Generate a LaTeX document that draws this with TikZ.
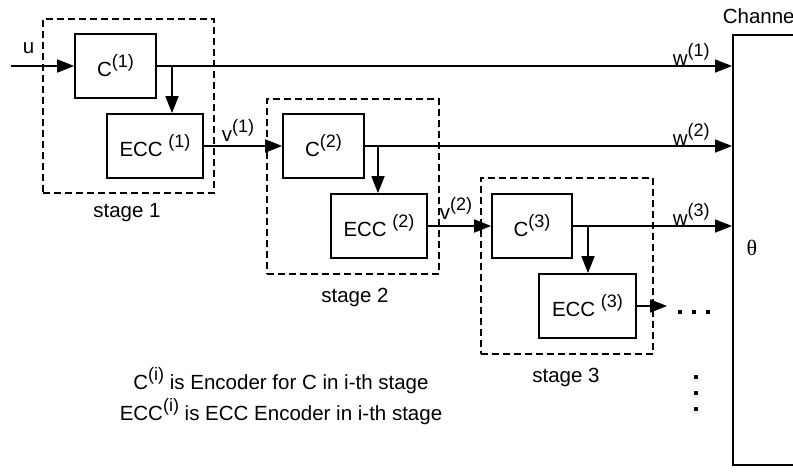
\documentclass[tikz,border=0pt]{standalone}
\usepackage{fontspec}
\setmainfont{Liberation Sans}
\newfontfamily\serifx{Liberation Serif}
\usetikzlibrary{arrows.meta}
\newcommand{\supx}[1]{\raisebox{9pt}{\fontsize{18}{18}\selectfont #1}}
\begin{document}
\begin{tikzpicture}[x=1pt,y=-1pt, line width=1.7pt, font=\fontsize{20.5}{31}\selectfont,
  blk/.style={draw, minimum height=64pt, inner sep=0pt},
  stagebox/.style={draw, line width=1.6pt, dash pattern=on 7pt off 4pt, inner sep=0pt},
  arr/.style={-{Triangle[length=17pt,width=13pt]}},
  lbl/.style={inner sep=0pt},
  dotx/.style={fill, minimum size=3.8pt, inner sep=0pt}]
\useasboundingbox (0,0) rectangle (793,472);
% stage boxes
\node[stagebox, minimum width=171pt, minimum height=174pt] (s1) at (128.5,106) {};
\node[stagebox, minimum width=172pt, minimum height=175pt] (s2) at (353,186.5) {};
\node[stagebox, minimum width=172pt, minimum height=176pt] (s3) at (567,266) {};
\node (s1l) at (127,213) {stage 1};
\node (s2l) at (355,297) {stage 2};
\node (s3l) at (566,377) {stage 3};
% blocks
\node[blk, minimum width=81pt] (c1) at (115.5,66) {C\supx{(1)}};
\node[blk, minimum width=96pt] (e1) at (155,146) {ECC \supx{(1)}};
\node[blk, minimum width=81pt] (c2) at (323.5,146) {C\supx{(2)}};
\node[blk, minimum width=96pt] (e2) at (379,226) {ECC \supx{(2)}};
\node[blk, minimum width=80pt] (c3) at (532,226) {C\supx{(3)}};
\node[blk, minimum width=97pt] (e3) at (587.5,306) {ECC \supx{(3)}};
% channel
\node[draw, minimum width=120pt, minimum height=430pt, anchor=north west, inner sep=0pt] (ch) at (732,34) {};
\node (theta) at (752,248) {\serifx\fontsize{22}{22}\selectfont θ};
\node[lbl, anchor=base west] (chl) at (722,23) {Channel};
% coordinates
\coordinate (uin) at (11,66);
\coordinate (b1) at (172,66);
\coordinate (b2) at (378,146);
\coordinate (b3) at (588,226);
\coordinate (e3end) at (667,306);
% connectors
\draw[arr] (uin) -- (c1.west);
\draw[arr] (c1.east) -- (ch.west |- c1.east);
\draw[arr] (b1) -- (b1 |- e1.north);
\draw[arr] (e1.east) -- (c2.west);
\draw[arr] (c2.east) -- (ch.west |- c2.east);
\draw[arr] (b2) -- (b2 |- e2.north);
\draw[arr] (e2.east) -- (c3.west);
\draw[arr] (c3.east) -- (ch.west |- c3.east);
\draw[arr] (b3) -- (b3 |- e3.north);
\draw[arr] (e3.east) -- (e3end);
% labels
\node[lbl, anchor=base west] (ul) at (22,53) {u};
\node[lbl, anchor=base west] (w1) at (672,65) {w\supx{(1)}};
\node[lbl, anchor=base west] (w2) at (672,145) {w\supx{(2)}};
\node[lbl, anchor=base west] (w3) at (672,225) {w\supx{(3)}};
\node[lbl, anchor=base west] (v1) at (221,141) {v\supx{(1)}};
\node[lbl, anchor=base west] (v2) at (439,219) {v\supx{(2)}};
% dots
\node[dotx] (d1) at (680,312) {};
\node[dotx] (d2) at (694,312) {};
\node[dotx] (d3) at (708,312) {};
\node[dotx] (d4) at (696,377) {};
\node[dotx] (d5) at (696,393) {};
\node[dotx] (d6) at (696,409) {};
% legend
\node[align=center] (leg) at (281,396) {C\supx{(i)} is Encoder for C in i-th stage\\ECC\supx{(i)} is ECC Encoder in i-th stage};
\end{tikzpicture}
\end{document}
